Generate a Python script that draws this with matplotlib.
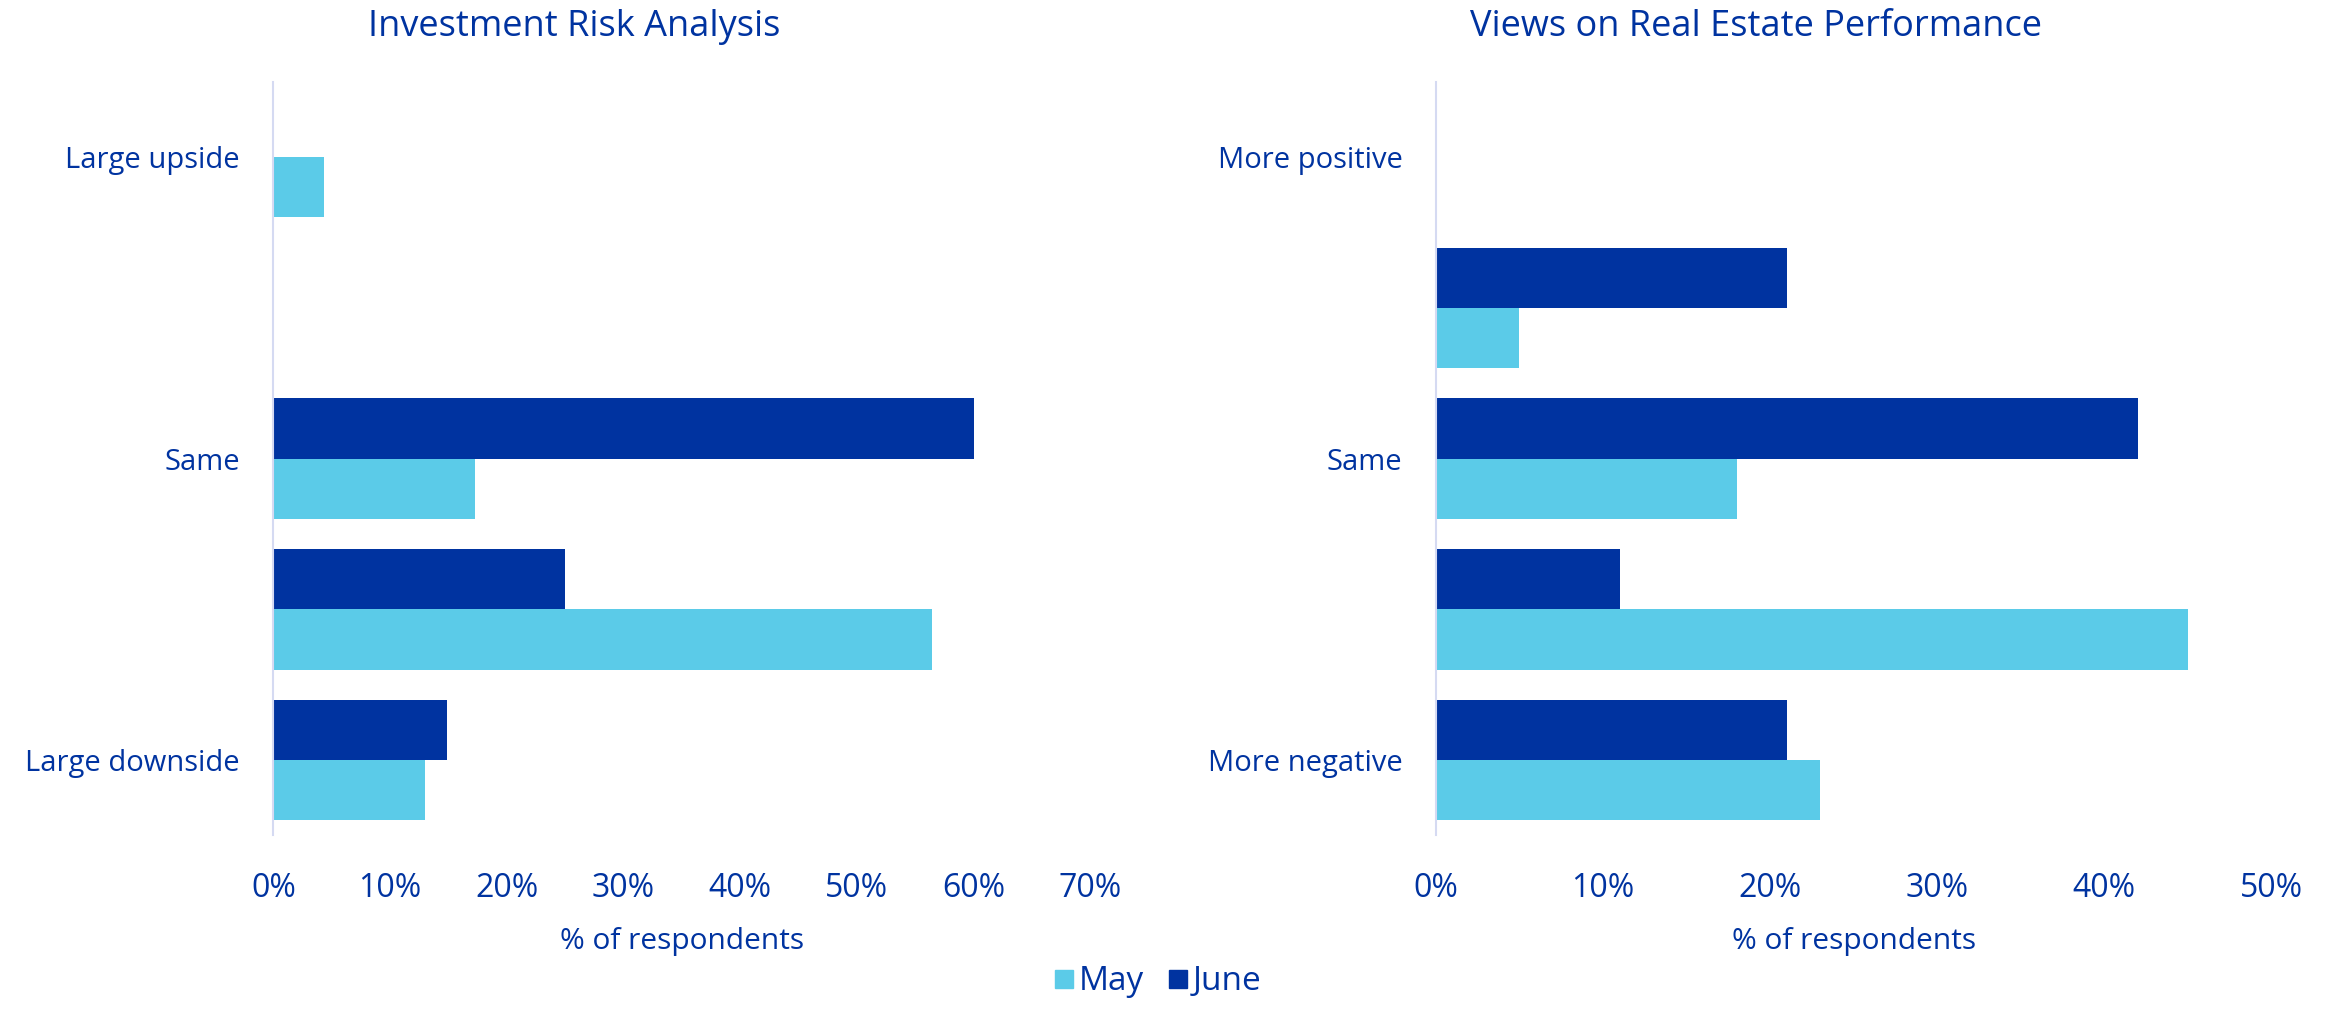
import numpy as np
import matplotlib.pyplot as plt
from matplotlib.ticker import PercentFormatter
from matplotlib.lines import Line2D

plt.rcParams['font.family'] = ['Open Sans', 'DejaVu Sans']

# data (share of respondents)
risk_labels = ['Large upside', '', 'Same', '', 'Large downside']
risk_may = [0.043, 0.0, 0.173, 0.565, 0.13]
risk_june = [0.0, 0.0, 0.601, 0.25, 0.149]

re_labels = ['More positive', '', 'Same', '', 'More negative']
re_may = [0.0, 0.05, 0.18, 0.45, 0.23]
re_june = [0.0, 0.21, 0.42, 0.11, 0.21]

c_may = '#5BCBE8'
c_june = '#0033A0'
c_text = '#0033A0'

fig = plt.figure(figsize=(23.31, 10.09), dpi=100)
ax1 = fig.add_axes([0.1173, 0.172, 0.3503, 0.747])
ax2 = fig.add_axes([0.616, 0.172, 0.3585, 0.747])

def draw(ax, labels, may, june, xmax, title, title_x):
    y = np.arange(len(labels))
    h = 0.4
    ax.barh(y + h / 2, may, height=h, color=c_may)
    ax.barh(y - h / 2, june, height=h, color=c_june)
    ax.set_yticks(y)
    ax.set_yticklabels(labels)
    ax.set_ylim(len(labels) - 0.5, -0.5)
    ax.set_xlim(0, xmax)
    ax.set_xticks(np.arange(0, xmax + 0.001, 0.1))
    ax.xaxis.set_major_formatter(PercentFormatter(1.0, decimals=0))
    for s in ['top', 'right', 'bottom']:
        ax.spines[s].set_visible(False)
    ax.spines['left'].set_color('#D5DAF2')
    ax.spines['left'].set_linewidth(1.5)
    ax.tick_params(axis='both', length=0, colors=c_text)
    ax.tick_params(axis='x', pad=26, labelsize=23)
    ax.tick_params(axis='y', pad=24, labelsize=21)
    ax.set_xlabel('% of respondents', fontsize=21.5, color=c_text, labelpad=16)
    # titles sit centred over each half of the figure, not over the axes
    fig.text(title_x, 0.973, title, fontsize=26, color=c_text,
             ha='center', va='center')

draw(ax1, risk_labels, risk_may, risk_june, 0.7, 'Investment Risk Analysis', 0.2465)
draw(ax2, re_labels, re_may, re_june, 0.5, 'Views on Real Estate Performance', 0.7535)

handles = [Line2D([], [], marker='s', linestyle='', color=c_may, markersize=13),
           Line2D([], [], marker='s', linestyle='', color=c_june, markersize=13)]
fig.legend(handles, ['May', 'June'], loc='center', bbox_to_anchor=(0.496, 0.027),
           ncol=2, frameon=False, fontsize=24, labelcolor=c_text,
           handlelength=0.8, handletextpad=0.05, columnspacing=0.6)

fig.savefig('out.png', dpi=100)
